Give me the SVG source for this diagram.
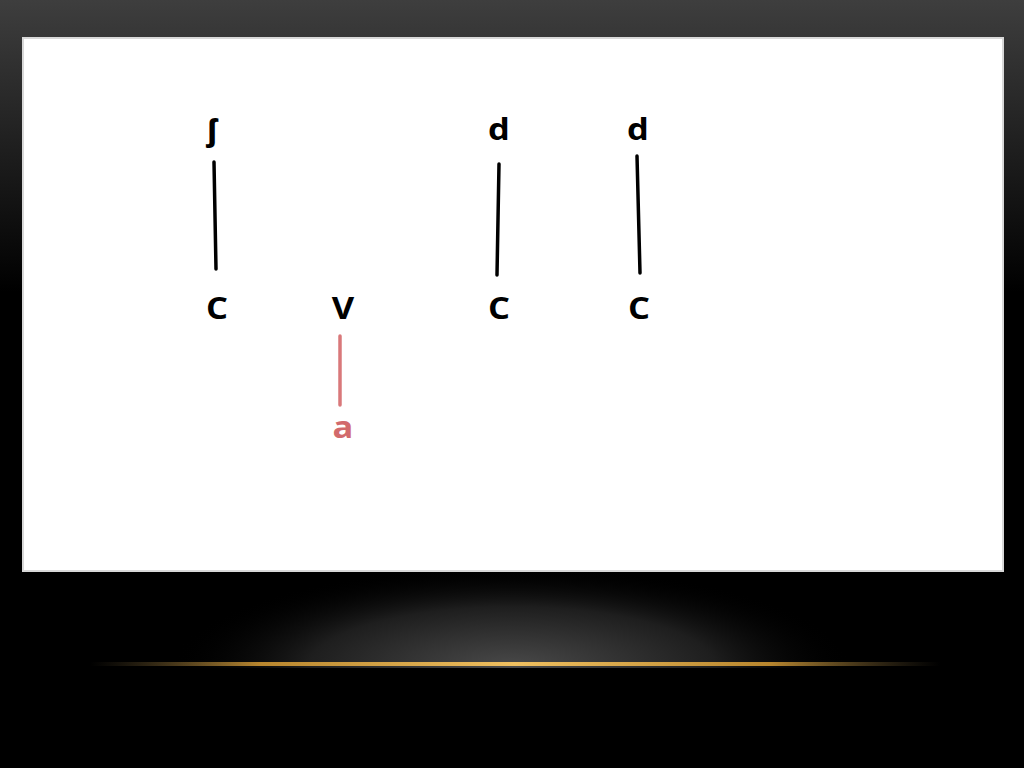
<svg xmlns="http://www.w3.org/2000/svg" width="1024" height="768" viewBox="0 0 1024 768">
  <defs>
    <linearGradient id="bg" x1="0" y1="0" x2="0" y2="1">
      <stop offset="0" stop-color="#3e3e3e"/>
      <stop offset="0.38" stop-color="#000000"/>
      <stop offset="1" stop-color="#000000"/>
    </linearGradient>
    <radialGradient id="glow" cx="512" cy="668" r="340" gradientUnits="userSpaceOnUse" gradientTransform="translate(0 668) scale(1 0.3) translate(0 -668)">
      <stop offset="0" stop-color="#4a4a4a"/>
      <stop offset="0.6" stop-color="#1e1e1e"/>
      <stop offset="1" stop-color="#000000" stop-opacity="0"/>
    </radialGradient>
    <linearGradient id="gold" x1="90" y1="0" x2="940" y2="0" gradientUnits="userSpaceOnUse">
      <stop offset="0" stop-color="#6a5a3a" stop-opacity="0"/>
      <stop offset="0.2" stop-color="#b8862e"/>
      <stop offset="0.5" stop-color="#f0c060"/>
      <stop offset="0.8" stop-color="#b8862e"/>
      <stop offset="1" stop-color="#6a5a3a" stop-opacity="0"/>
    </linearGradient>
    <style>
      .lbl { font-family: "Open Sans", "Noto Sans", "DejaVu Sans", sans-serif; font-weight: bold; font-size: 30px; fill: #000; text-anchor: middle; }
      .red { fill: #d26a6c; }
      .ln { stroke: #000; stroke-width: 3.5; stroke-linecap: round; }
      .lnr { stroke: #d9787a; stroke-width: 3.5; stroke-linecap: round; }
    </style>
  </defs>

  <rect x="0" y="0" width="1024" height="768" fill="url(#bg)"/>
  <rect x="0" y="560" width="1024" height="108" fill="url(#glow)"/>
  <rect x="0" y="668" width="1024" height="100" fill="#000"/>
  <rect x="90" y="662" width="850" height="4" fill="url(#gold)"/>

  <rect x="22" y="37" width="982" height="535" fill="#d8d8d8"/>
  <rect x="24" y="39" width="978" height="531" fill="#ffffff"/>

  <g id="connectors">
    <line class="ln" x1="214" y1="162" x2="216" y2="269"/>
    <line class="ln" x1="499" y1="164" x2="497" y2="275"/>
    <line class="ln" x1="637" y1="156" x2="640" y2="273"/>
    <line class="lnr" x1="340" y1="336" x2="340" y2="405"/>
  </g>

  <g id="node-sh" transform="translate(212 141) scale(1.15 1)"><text class="lbl" x="0" y="0">ʃ</text></g>
  <g id="node-c1" transform="translate(217 319) scale(1.15 1)"><text class="lbl" x="0" y="0">C</text></g>
  <g id="node-v" transform="translate(343 319) scale(1.15 1)"><text class="lbl" x="0" y="0">V</text></g>
  <g id="node-a" transform="translate(343 438) scale(1.15 1)"><text class="lbl red" x="0" y="0">a</text></g>
  <g id="node-d1" transform="translate(499 140) scale(1.15 1)"><text class="lbl" x="0" y="0">d</text></g>
  <g id="node-c2" transform="translate(499 319) scale(1.15 1)"><text class="lbl" x="0" y="0">C</text></g>
  <g id="node-d2" transform="translate(638 140) scale(1.15 1)"><text class="lbl" x="0" y="0">d</text></g>
  <g id="node-c3" transform="translate(639 319) scale(1.15 1)"><text class="lbl" x="0" y="0">C</text></g>
</svg>
